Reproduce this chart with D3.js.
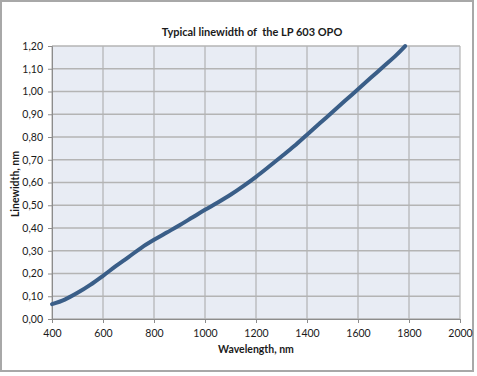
<!DOCTYPE html>
<html>
<head>
<meta charset="utf-8">
<script src="https://cdn.jsdelivr.net/npm/d3@7"></script>
<style>
  body { margin: 0; background: #ffffff; }
  text { font-family: Lato, "Open Sans", sans-serif; fill: #1a1a1a; }
</style>
</head>
<body>
<div id="graph"></div>
<script>
// Data
let wavelengths = [400, 450, 500, 550, 600, 650, 700, 750, 800, 850, 900, 950, 1000, 1050, 1100, 1150, 1200, 1250, 1300, 1350, 1400, 1450, 1500, 1550, 1600, 1650, 1700, 1750, 1785];
let linewidths  = [0.065, 0.085, 0.115, 0.15, 0.19, 0.232, 0.272, 0.313, 0.348, 0.38, 0.412, 0.446, 0.48, 0.512, 0.546, 0.584, 0.625, 0.669, 0.714, 0.76, 0.81, 0.86, 0.91, 0.96, 1.01, 1.06, 1.11, 1.16, 1.20];
let x_ticks = [400, 600, 800, 1000, 1200, 1400, 1600, 1800, 2000];
let y_ticks = [0, 0.1, 0.2, 0.3, 0.4, 0.5, 0.6, 0.7, 0.8, 0.9, 1.0, 1.1, 1.2];

let width = 477, height = 376;
let margin = {left: 52, right: 17, top: 46, bottom: 57};

let svg = d3.select("#graph")
            .append("svg")
             .attr("width", width)
             .attr("height", height);

// outer frame
svg.append("rect")
   .attr("x", 1).attr("y", 1)
   .attr("width", 472).attr("height", 370)
   .attr("fill", "#ffffff")
   .attr("stroke", "#a8a8a8")
   .attr("stroke-width", 2);

let x = d3.scaleLinear().domain([400, 2000]).range([margin.left, width - margin.right]);
let y = d3.scaleLinear().domain([0, 1.2]).range([height - margin.bottom, margin.top]);

// plot area background
svg.append("rect")
   .attr("x", x(400)).attr("y", y(1.2))
   .attr("width", x(2000) - x(400))
   .attr("height", y(0) - y(1.2))
   .attr("fill", "#e8ecf4");

// gridlines
svg.append("g")
   .selectAll("line")
   .data(x_ticks)
   .enter().append("line")
    .attr("x1", d => x(d)).attr("x2", d => x(d))
    .attr("y1", y(0)).attr("y2", y(1.2))
    .attr("stroke", "#a6a6a6");

svg.append("g")
   .selectAll("line")
   .data(y_ticks)
   .enter().append("line")
    .attr("x1", x(400)).attr("x2", x(2000))
    .attr("y1", d => y(d)).attr("y2", d => y(d))
    .attr("stroke", "#b4b4b4")
    .attr("stroke-width", 1.5);

let comma = v => d3.format(".2f")(v).replace(".", ",");

// y axis
let y_axis = svg.append("g")
   .attr("transform", "translate(" + x(400) + ",0)")
   .call(d3.axisLeft(y).tickValues(y_ticks).tickFormat(comma).tickSize(4).tickPadding(5));

// x axis
let x_axis = svg.append("g")
   .attr("transform", "translate(0," + y(0) + ")")
   .call(d3.axisBottom(x).tickValues(x_ticks).tickFormat(d3.format("d")).tickSize(4).tickPadding(7));

[y_axis, x_axis].forEach(function(a) {
  a.select(".domain").attr("stroke", "#8c8c8c");
  a.selectAll(".tick line").attr("stroke", "#8c8c8c");
  a.selectAll(".tick text")
   .attr("fill", "#1a1a1a")
   .style("font-family", "Lato, sans-serif")
   .style("font-size", "10.5px");
});

// the curve
let line = d3.line()
             .x((d, i) => x(wavelengths[i]))
             .y(d => y(d))
             .curve(d3.curveMonotoneX);

svg.append("path")
   .datum(linewidths)
   .attr("fill", "none")
   .attr("stroke", "#3a5e88")
   .attr("stroke-width", 4)
   .attr("stroke-linecap", "round")
   .attr("d", line);

// titles
svg.append("text")
   .attr("x", 252).attr("y", 36)
   .attr("text-anchor", "middle")
   .style("font-size", "11px")
   .style("font-weight", "bold")
   .style("white-space", "pre")
   .text("Typical linewidth of  the LP 603 OPO");

svg.append("text")
   .attr("x", 256).attr("y", 353)
   .attr("text-anchor", "middle")
   .style("font-size", "10.5px")
   .style("font-weight", "bold")
   .text("Wavelength, nm");

svg.append("text")
   .attr("transform", "translate(19,184) rotate(-90)")
   .attr("text-anchor", "middle")
   .style("font-size", "10.5px")
   .style("font-weight", "bold")
   .text("Linewidth, nm");
</script>
</body>
</html>
